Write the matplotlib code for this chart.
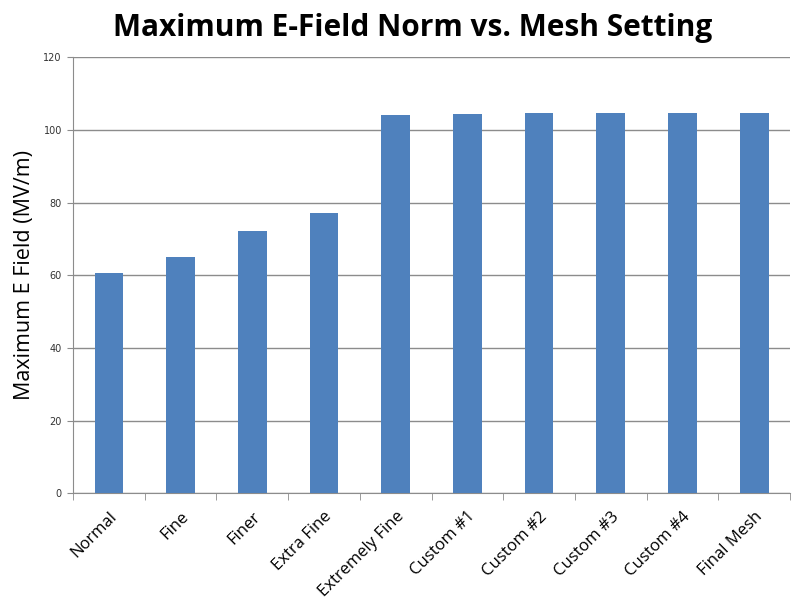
import matplotlib
matplotlib.use("Agg")
import matplotlib.pyplot as plt
import numpy as np

# mesh settings and peak field values (MV/m)
settings = ["Normal", "Fine", "Finer", "Extra Fine", "Extremely Fine",
            "Custom #1", "Custom #2", "Custom #3", "Custom #4", "Final Mesh"]
max_field = [60.6, 64.9, 72.2, 77.1, 104.1, 104.3, 104.6, 104.6, 104.6, 104.6]
yticks = [0, 20, 40, 60, 80, 100, 120]

fig = plt.figure(figsize=(7.94, 6.15), dpi=100)
ax = fig.add_axes([0.092, 0.198, 0.903, 0.709])

x = np.arange(len(settings))
ax.bar(x, max_field, width=0.4, color="#4F81BD", zorder=3)

ax.set_xlim(-0.5, len(settings) - 0.5)
ax.set_ylim(0, 120)
ax.set_yticks(yticks)
ax.set_yticklabels([str(t) for t in yticks], fontsize=7, color="#333333",
                   family="DejaVu Sans")
ax.yaxis.grid(True, color="#8c8c8c", linewidth=1, zorder=0)

# category labels centred, tick marks on the boundaries
ax.set_xticks(x)
ax.set_xticklabels(settings, rotation=45, ha="right", rotation_mode="anchor",
                   fontsize=12, family="Open Sans")
ax.tick_params(axis="x", length=0, pad=11)
ax.set_xticks(np.arange(-0.5, len(settings), 1), minor=True)
ax.tick_params(axis="x", which="minor", length=5, color="#8c8c8c", direction="out")
ax.tick_params(axis="y", length=4, color="#8c8c8c", pad=4)

for side in ["top", "right"]:
    ax.spines[side].set_visible(False)
for side in ["left", "bottom"]:
    ax.spines[side].set_color("#8c8c8c")

ax.set_ylabel("Maximum E Field (MV/m)", fontsize=15.5, family="Open Sans", labelpad=6)
fig.text(0.52, 0.955, "Maximum E-Field Norm vs. Mesh Setting", ha="center",
         va="center", fontsize=21.5, fontweight="bold", family="Open Sans")

fig.savefig("out.png", dpi=100)
